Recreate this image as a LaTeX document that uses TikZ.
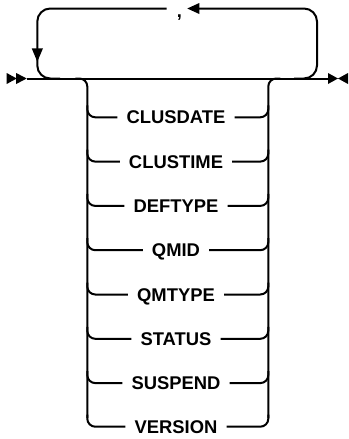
\documentclass[tikz,border=0pt]{standalone}
\usepackage{fontspec}
\setmainfont{Liberation Sans}
\begin{document}
\begin{tikzpicture}[x=1pt,y=-1pt,
  rail/.style={line width=2pt},
  tip/.style={fill=black,draw=none},
  kwfont/.style={font=\bfseries\fontsize{18.4}{20}\selectfont},
  kw/.style={kwfont, inner xsep=9pt, inner ysep=0pt, text height=13pt, text depth=0pt, anchor=center}]
\useasboundingbox (0,0) rectangle (348,439);
\def\my{78.5}
% coordinates
\coordinate (start) at (26.7,\my);
\coordinate (finish) at (330,\my);
% main line
\draw[rail] (start) -- (finish);
% start marker
\fill[tip] (6.7,\my-5.5) -- (16.7,\my) -- (6.7,\my+5.5) -- cycle;
\fill[tip] (16.2,\my-5.5) -- (26.7,\my) -- (16.2,\my+5.5) -- cycle;
% end marker
\fill[tip] (328,\my-5.5) -- (338,\my) -- (328,\my+5.5) -- cycle;
\fill[tip] (348,\my-5.5) -- (338,\my) -- (348,\my+5.5) -- cycle;
% repeat loop
\node[kwfont, inner sep=0pt, anchor=base] (comma) at (179.5,17.5) {,};
\coordinate (ltop) at (166.7,8.5);
\coordinate (rtop) at (199,8.5);
\draw[rail, rounded corners=13pt] (60,\my) -- (37.3,\my) -- (37.3,8.5) -- (ltop);
\draw[rail, rounded corners=13pt] (294,\my) -- (317,\my) -- (317,8.5) -- (rtop);
\fill[tip] (187.3,8.5) -- (199.3,8.5-5.5) -- (199.3,8.5+5.5) -- cycle;
\fill[tip] (31.7,48.3) -- (43,48.3) -- (37.3,61.7) -- cycle;
% choice branches
\def\lx{87.3}
\def\rx{268.3}
\draw[rail, rounded corners=8pt] (\lx-12,\my) -- (\lx,\my) -- (\lx,418);
\draw[rail, rounded corners=8pt] (\rx+12,\my) -- (\rx,\my) -- (\rx,418);
\foreach \name/\txt/\yy in {a/CLUSDATE/117.3, b/CLUSTIME/161.6, c/DEFTYPE/205.9, d/QMID/250.2, e/QMTYPE/294.5, f/STATUS/338.8, g/SUSPEND/383.1, h/VERSION/426.7}{
  \node[kw] (\name) at (176,\yy) {\txt};
  \draw[rail, rounded corners=8pt] (\lx,\yy-12) -- (\lx,\yy) -- (\name.west);
  \draw[rail, rounded corners=8pt] (\name.east) -- (\rx,\yy) -- (\rx,\yy-12);
}
\end{tikzpicture}
\end{document}
